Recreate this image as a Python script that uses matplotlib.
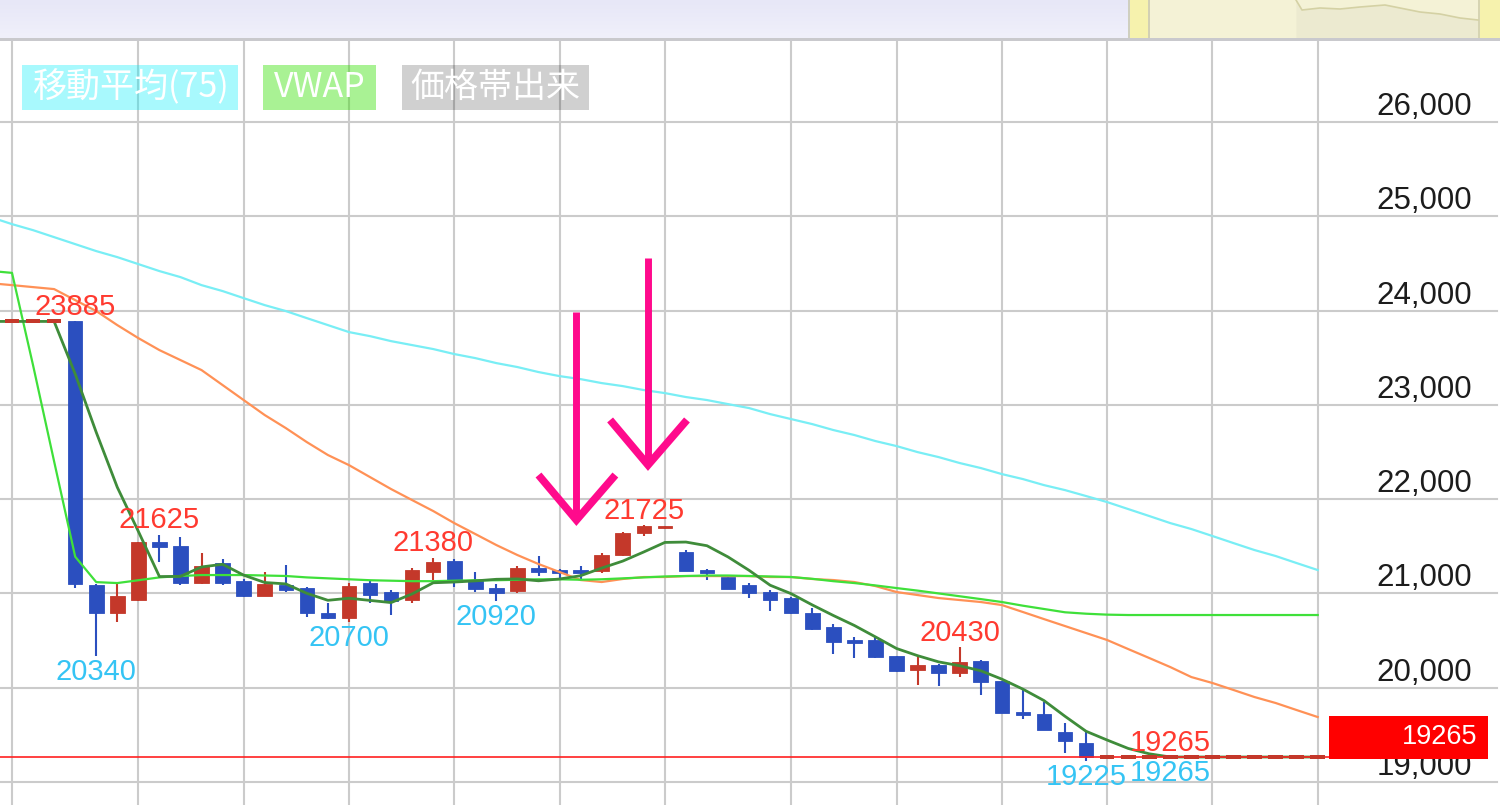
import numpy as np
import matplotlib
matplotlib.use("Agg")
import matplotlib.pyplot as plt
from matplotlib.patches import Rectangle
import matplotlib.transforms as mtransforms

plt.rcParams['font.family'] = ['Liberation Sans', 'Noto Sans CJK JP', 'DejaVu Sans']

# ---------------- data ----------------
candle_idx = list(range(63))
opens = [23885, 23885, 23885, 23885, 21090, 20790, 20930, 21550, 21500, 21110,
         21320, 21130, 20970, 21090, 21060, 20790, 20740, 21110, 21015, 20930,
         21230, 21340, 21140, 21055, 21025, 21270, 21250, 21250, 21240, 21410,
         21640, 21690, 21440, 21250, 21175, 21090, 21015, 20950, 20790, 20645,
         20495, 20505, 20335, 20190, 20240, 20160, 20285, 20070, 19740, 19720,
         19530, 19415] + [19265] * 11
highs = [23885, 23885, 23885, 23885, 21100, 21120, 21550, 21625, 21600, 21430,
         21360, 21150, 21230, 21300, 21065, 20900, 21110, 21130, 21040, 21270,
         21380, 21360, 21230, 21100, 21290, 21400, 21260, 21290, 21430, 21650,
         21725, 21720, 21460, 21260, 21180, 21110, 21035, 20960, 20850, 20680,
         20540, 20550, 20340, 20335, 20250, 20430, 20290, 20075, 19990, 19850,
         19630, 19530] + [19265] * 11
lows = [23885, 23885, 23885, 21060, 20340, 20700, 20920, 21330, 21090, 21100,
        21090, 20960, 20970, 21010, 20750, 20730, 20700, 20900, 20770, 20900,
        21140, 21070, 21010, 20920, 21005, 21185, 21160, 21150, 21220, 21400,
        21610, 21685, 21235, 21140, 21045, 20950, 20810, 20785, 20610, 20360,
        20310, 20320, 20170, 20030, 20020, 20110, 19920, 19730, 19665, 19550,
        19310, 19225] + [19265] * 11
closes = [23885, 23885, 23885, 21100, 20790, 20970, 21545, 21490, 21110, 21290,
          21110, 20970, 21100, 21035, 20790, 20740, 21080, 20985, 20920, 21250,
          21330, 21120, 21045, 21005, 21270, 21230, 21215, 21220, 21410, 21640,
          21715, 21720, 21240, 21215, 21045, 21005, 20930, 20790, 20620, 20485,
          20475, 20325, 20175, 20240, 20155, 20270, 20060, 19730, 19710, 19550,
          19435, 19265] + [19265] * 11

line_idx = list(range(-1, 63))
ma5 = [23885, 23885, 23885, 23885, 23328, 22709, 22126, 21658, 21179, 21181,
       21281, 21309, 21194, 21116, 21101, 21001, 20927, 20949, 20926, 20903,
       20995, 21113, 21121, 21133, 21150, 21154, 21134, 21153, 21188, 21269,
       21343, 21440, 21541, 21545, 21506, 21387, 21245, 21087, 20997, 20878,
       20766, 20660, 20539, 20416, 20340, 20274, 20233, 20180, 20091, 19985,
       19864, 19697, 19538, 19445, 19356, 19299] + [19265] * 8
ma25 = [24290, 24270, 24249, 24228, 24111, 23995, 23846, 23708, 23581, 23475,
        23369, 23210, 23051, 22892, 22754, 22605, 22468, 22361, 22234, 22107,
        21990, 21874, 21746, 21630, 21513, 21407, 21312, 21227, 21142, 21121,
        21153, 21174, 21174, 21184, 21184, 21184, 21184, 21174, 21174, 21153,
        21142, 21121, 21078, 21015, 20983, 20951, 20930, 20909, 20877, 20803,
        20728, 20654, 20580, 20506, 20410, 20315, 20219, 20113, 20050, 19976,
        19901, 19838, 19763, 19689]
ma75 = [24990, 24917, 24853, 24779, 24705, 24631, 24567, 24493, 24419, 24355,
        24270, 24207, 24132, 24058, 23995, 23920, 23846, 23772, 23729, 23676,
        23634, 23592, 23539, 23496, 23443, 23401, 23348, 23305, 23273, 23231,
        23199, 23157, 23125, 23083, 23051, 23008, 22966, 22902, 22849, 22796,
        22733, 22680, 22616, 22563, 22499, 22446, 22383, 22330, 22266, 22213,
        22149, 22096, 22033, 21969, 21895, 21821, 21746, 21683, 21609, 21534,
        21460, 21397, 21322, 21248]
vwap = [24420, 24400, 23420, 22400, 21390, 21120, 21110, 21140, 21170, 21185,
        21195, 21195, 21195, 21190, 21185, 21170, 21160, 21150, 21140, 21135,
        21130, 21130, 21135, 21140, 21140, 21145, 21150, 21150, 21145, 21150,
        21160, 21170, 21180, 21185, 21190, 21190, 21185, 21180, 21174, 21155,
        21130, 21110, 21085, 21057, 21030, 21000, 20970, 20940, 20909, 20870,
        20835, 20800, 20785, 20775] + [20771] * 10

last_price = 19265
y_ticks = [19000, 20000, 21000, 22000, 23000, 24000, 25000, 26000]
y_tick_labels = ['19,000', '20,000', '21,000', '22,000', '23,000', '24,000', '25,000', '26,000']
grid_days = [0, 6, 11, 16, 21, 26, 31, 37, 42, 47, 52, 57, 62]
high_marks = [(3, 23885), (7, 21625), (20, 21380), (30, 21725), (45, 20430), (55, 19265)]
low_marks = [(4, 20340), (16, 20700), (23, 20920), (51, 19225), (55, 19265)]
legend_labels = ['移動平均(75)', 'VWAP', '価格帯出来']
# hand-drawn arrows: (candle position, tip price, top price)
arrows = [(26.8, 21778, 23983), (30.2, 22362, 24558)]
nav_x = [1296, 1302, 1320, 1340, 1360, 1385, 1400, 1420, 1440, 1460, 1478]
nav_y = [0, 10, 8, 9, 7, 5, 8, 12, 14, 18, 20]

# ---------------- style ----------------
UP = '#c4382a'
DOWN = '#2b4fbf'
GRID = '#cbcbcb'
HIGH_C = '#ff3a30'
LOW_C = '#35c4f4'
W, H = 1500, 805
PX = 21.06          # pixels per candle
X0 = 12             # pixel of first candle

fig = plt.figure(figsize=(15, 8.05), dpi=100)
fig.patch.set_facecolor('white')
ax = fig.add_axes([0, 0, 1, 765 / 805])
ax.set_xlim(-X0 / PX, (W - X0) / PX)
ax.set_ylim(18756, 26870)
ax.axis('off')

# grid
for v in y_ticks:
    ax.axhline(v, xmin=0, xmax=1497 / W, color=GRID, lw=1.5, zorder=0)
for d in grid_days:
    ax.axvline(d, color=GRID, lw=1.5, zorder=0)

# candles
o = np.array(opens, float); h = np.array(highs, float)
l = np.array(lows, float); c = np.array(closes, float)
xi = np.array(candle_idx, float)
flat = (h == l)
up = (c >= o) & ~flat
dn = (c < o) & ~flat
cols = np.where(up, UP, DOWN)
ax.vlines(xi[~flat], l[~flat], h[~flat], colors=list(cols[~flat]), lw=1.5, zorder=2)
body_lo = np.minimum(o, c)
body_h = np.maximum(np.abs(c - o), 30)
ax.bar(xi[up], body_h[up], bottom=body_lo[up], width=0.69, color=UP, edgecolor=UP, lw=0.6, zorder=2.1)
ax.bar(xi[dn], body_h[dn], bottom=body_lo[dn], width=0.69, color=DOWN, edgecolor=DOWN, lw=0.6, zorder=2.1)
ax.bar(xi[flat], 42, bottom=c[flat] - 21, width=0.7, color=UP, lw=0, zorder=3.5)

# lines
li = np.array(line_idx, float)
ax.plot(li, ma75, color='#79eef5', lw=1.6, zorder=3)
ax.plot(li, ma25, color='#ff9156', lw=1.6, zorder=3)
ax.plot(li, vwap, color='#3fe03a', lw=1.6, zorder=3.1)
ax.plot(li, ma5, color='#3f8c3a', lw=2.0, zorder=3.2)

# current price line
ax.axhline(last_price, xmin=0, xmax=1329 / W, color='#ff2020', lw=1.2, zorder=3.3)

# high / low labels
for i, v in high_marks:
    ax.annotate(f'{v}', xy=(i, v), xytext=(0, 4.5), textcoords='offset points',
                ha='center', va='baseline', color=HIGH_C, fontsize=21, zorder=4)
for i, v in low_marks:
    ax.annotate(f'{v}', xy=(i, v), xytext=(0, -1.5), textcoords='offset points',
                ha='center', va='top', color=LOW_C, fontsize=21, zorder=4)

# y-axis labels (right)
for v, s in zip(y_ticks, y_tick_labels):
    ax.annotate(s, xy=(1472 / W, v), xycoords=('axes fraction', 'data'),
                xytext=(0, 5), textcoords='offset points', ha='right', va='baseline',
                color='#1c1c1c', fontsize=22.5, zorder=4)

# last price box
btr = mtransforms.blended_transform_factory(ax.transAxes, ax.transData)
ax.add_patch(Rectangle((1329 / W, last_price - 21), (1488 - 1329) / W, 456,
                       transform=btr, facecolor='#ff0000', edgecolor='none', zorder=5))
ax.text(1477 / W, last_price + 207, f'{last_price}', transform=btr, ha='right', va='center',
        color='white', fontsize=19.5, zorder=6)

# pink arrows
PINK = '#ff0a8c'
for x, tip, top in arrows:
    ax.plot([x, x], [top, tip + 60], color=PINK, lw=5, solid_capstyle='butt', zorder=7)
    ax.plot([x - 1.8, x, x + 1.85], [tip + 478, tip, tip + 478], color=PINK, lw=5.5,
            solid_joinstyle='miter', solid_capstyle='butt', zorder=7)

# ---------------- overlay: top strip + legend ----------------
ov = fig.add_axes([0, 0, 1, 1], zorder=10)
ov.set_xlim(0, W)
ov.set_ylim(H, 0)
ov.axis('off')
ov.patch.set_alpha(0)

grad = np.linspace(0, 1, 40)[:, None]
c_top = np.array([231, 231, 247]) / 255
c_bot = np.array([240, 240, 251]) / 255
img = (c_top[None, None, :] * (1 - grad[..., None]) + c_bot[None, None, :] * grad[..., None])
img = np.repeat(img, 2, axis=1)
ov.imshow(img, extent=[0, 1128, 38, 0], aspect='auto', zorder=1)
ov.add_patch(Rectangle((0, 38), W, 3.5, facecolor='#c9c9cd', edgecolor='none', zorder=2))
# navigator
ov.add_patch(Rectangle((1128, 0), 372, 38, facecolor='#f4f2d6', edgecolor='none', zorder=1))
ov.add_patch(Rectangle((1128, 0), 2, 38, facecolor='#cfcfc0', edgecolor='none', zorder=2))
ov.add_patch(Rectangle((1130, 0), 18, 38, facecolor='#f6f2ad', edgecolor='none', zorder=2))
ov.add_patch(Rectangle((1148, 0), 2, 38, facecolor='#d2d0b4', edgecolor='none', zorder=2))
ov.add_patch(Rectangle((1479, 0), 21, 38, facecolor='#f6f2ad', edgecolor='none', zorder=2))
ov.add_patch(Rectangle((1478, 0), 2, 38, facecolor='#d6d4b2', edgecolor='none', zorder=2))
ov.plot(nav_x, nav_y, color='#d4d1a4', lw=1.2, zorder=3)
ov.fill_between(nav_x, nav_y, 38, color='#ecead0', lw=0, zorder=1.5)

# legend boxes
boxes = [(22, 238, (0.0, 0.94, 0.98), 0.34),
         (263, 376, (0.2, 0.88, 0.0), 0.42),
         (402, 589, (0.0, 0.0, 0.0), 0.185)]
for (x0, x1, col, a), lab in zip(boxes, legend_labels):
    ov.add_patch(Rectangle((x0, 65), x1 - x0, 45, facecolor=col, alpha=a, edgecolor='none', zorder=4))
    ov.text((x0 + x1) / 2, 87.5, lab, ha='center', va='center', color='white',
            fontsize=24.5, family=['Noto Sans CJK JP', 'DejaVu Sans'], zorder=5)

fig.savefig('out.png', dpi=100, facecolor='white')
